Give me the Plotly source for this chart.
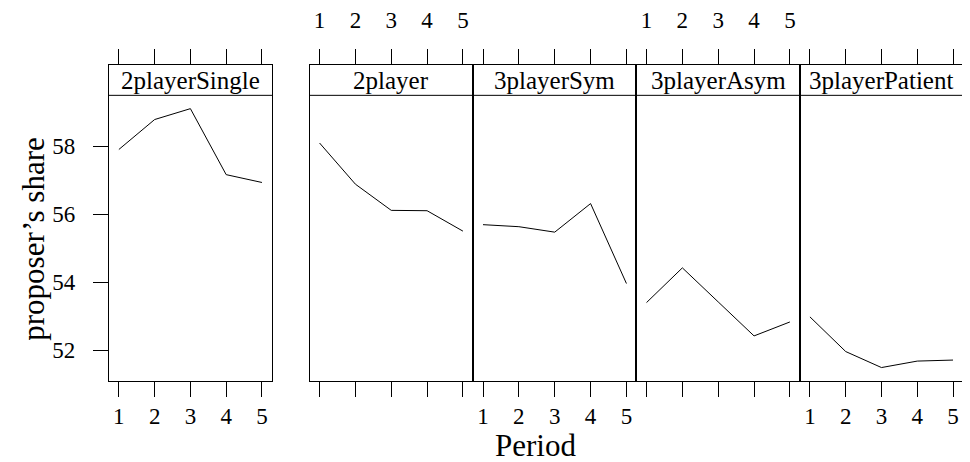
import plotly.graph_objects as go

periods = [1, 2, 3, 4, 5]
panels = ["2playerSingle", "2player", "3playerSym", "3playerAsym", "3playerPatient"]
share_2playerSingle = [57.90, 58.78, 59.10, 57.16, 56.93]
share_2player = [58.09, 56.88, 56.11, 56.10, 55.50]
share_3playerSym = [55.69, 55.63, 55.47, 56.31, 53.96]
share_3playerAsym = [53.40, 54.42, 53.42, 52.42, 52.83]
share_3playerPatient = [52.98, 51.96, 51.49, 51.68, 51.71]
series = [share_2playerSingle, share_2player, share_3playerSym,
          share_3playerAsym, share_3playerPatient]
y_ticks = [52, 54, 56, 58]

W, H = 970, 462
FONT = "Liberation Serif"

# panel pixel edges
px_edges = [(102, 267), (305, 470.3), (470.3, 635.7), (635.7, 801), (801, 966)]
y_bot_px, strip_top_px, strip_bot_px = 372.3, 55.0, 85.7
ydom = [(H - y_bot_px) / H, (H - strip_top_px) / H]
strip_bot = (H - strip_bot_px) / H

xr = [0.72, 5.28]
yr = [51.104, 60.39]

fig = go.Figure()
label_side = ["bottom", "top", "bottom", "top", "bottom"]

for i, (name, vals) in enumerate(zip(panels, series)):
    k = i + 1
    xa = "x" if k == 1 else f"x{k}"
    ya = "y" if k == 1 else f"y{k}"
    fig.add_trace(go.Scatter(x=periods, y=vals, mode="lines",
                             line=dict(color="black", width=1),
                             xaxis=xa, yaxis=ya, showlegend=False,
                             hoverinfo="skip"))
    x0, x1 = px_edges[i]
    xkey = "xaxis" if k == 1 else f"xaxis{k}"
    ykey = "yaxis" if k == 1 else f"yaxis{k}"
    fig.layout[xkey] = dict(
        domain=[x0 / W, x1 / W], range=xr, anchor=ya,
        side=label_side[i], mirror="ticks", showline=True,
        linecolor="black", linewidth=1,
        ticks="outside", ticklen=15, tickcolor="black", tickwidth=1,
        tickvals=periods, ticktext=[str(p) for p in periods],
        showgrid=False, zeroline=False,
        tickfont=dict(family=FONT, size=23, color="black"),
        ticklabelstandoff=(0 if label_side[i] == "bottom" else 12),
    )
    ydict = dict(
        domain=ydom, range=yr, anchor=xa, showline=True, mirror=True,
        linecolor="black", linewidth=1, showgrid=False, zeroline=False,
        tickvals=y_ticks, ticktext=[str(t) for t in y_ticks],
        tickfont=dict(family=FONT, size=23, color="black"),
    )
    if k == 1:
        ydict.update(side="left", ticks="outside", ticklen=15,
                     tickcolor="black", showticklabels=True,
                     ticklabelstandoff=13)
    elif k == 5:
        ydict.update(side="right", ticks="outside", ticklen=15,
                     tickcolor="black", showticklabels=False)
    else:
        ydict.update(ticks="", showticklabels=False)
    fig.layout[ykey] = ydict

    # strip
    fig.add_shape(type="line", xref="paper", yref="paper",
                  x0=x0 / W, x1=x1 / W, y0=strip_bot, y1=strip_bot,
                  line=dict(color="black", width=1))
    fig.add_annotation(text=name, xref="paper", yref="paper",
                       x=(x0 + x1) / 2 / W, y=(strip_bot + ydom[1]) / 2,
                       xanchor="center", yanchor="middle", showarrow=False,
                       font=dict(family=FONT, size=25, color="black"))

fig.add_annotation(text="proposer’s share", xref="paper", yref="paper",
                   x=25 / W, y=(H - 230) / H, textangle=-90,
                   xanchor="center", yanchor="middle", showarrow=False,
                   font=dict(family=FONT, size=31, color="black"))
fig.add_annotation(text="Period", xref="paper", yref="paper",
                   x=534 / W, y=0, yshift=5,
                   xanchor="center", yanchor="bottom", showarrow=False,
                   font=dict(family=FONT, size=31, color="black"))

fig.update_layout(width=W, height=H, margin=dict(l=0, r=0, t=0, b=0),
                  paper_bgcolor="white", plot_bgcolor="white")
fig.write_html("out.html")
